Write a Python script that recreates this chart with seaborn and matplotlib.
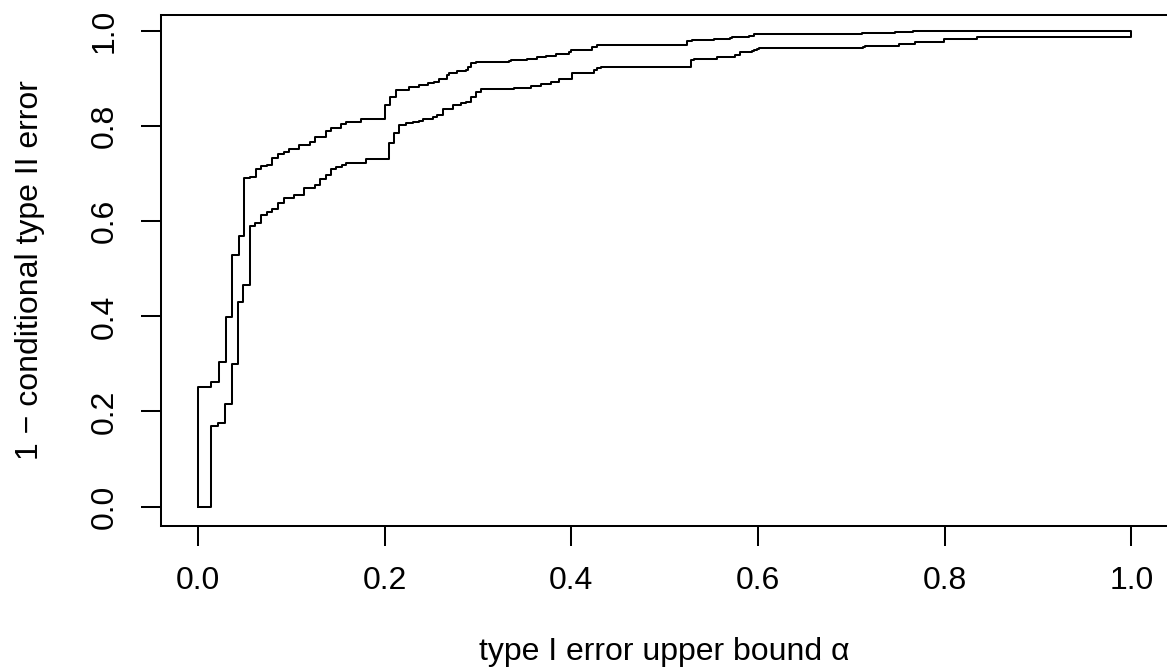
import matplotlib
matplotlib.use("Agg")
import matplotlib.pyplot as plt
import numpy as np
import pandas as pd
import seaborn as sns

# ---- data ----
upper_alpha = [0.0, 0.0143, 0.0225, 0.0296, 0.0367, 0.0439, 0.0496, 0.0562, 0.0623, 0.0676,
               0.0737, 0.0794, 0.0858, 0.0919, 0.0980, 0.1086, 0.1200, 0.1257, 0.1370, 0.1425,
               0.1530, 0.1586, 0.1746, 0.2006, 0.2056, 0.2120, 0.2260, 0.2370, 0.2460, 0.2530,
               0.2580, 0.2670, 0.2690, 0.2780, 0.2870, 0.2888, 0.2923, 0.2977, 0.3333, 0.3350,
               0.3530, 0.3636, 0.3726, 0.3833, 0.3975, 0.3993, 0.4225, 0.4278, 0.5240, 0.5295,
               0.5527, 0.5705, 0.5723, 0.5900, 0.5955, 0.7114, 0.7470, 0.7490, 0.7660, 0.7970]
upper_power = [0.252, 0.262, 0.304, 0.398, 0.530, 0.568, 0.690, 0.694, 0.710, 0.716,
               0.719, 0.732, 0.741, 0.745, 0.751, 0.761, 0.767, 0.778, 0.790, 0.797,
               0.805, 0.809, 0.816, 0.844, 0.862, 0.876, 0.882, 0.887, 0.890, 0.893,
               0.900, 0.907, 0.912, 0.915, 0.918, 0.925, 0.932, 0.935, 0.937, 0.939,
               0.941, 0.945, 0.947, 0.951, 0.955, 0.961, 0.967, 0.971, 0.979, 0.981,
               0.983, 0.985, 0.988, 0.990, 0.994, 0.995, 0.997, 0.998, 0.999, 1.000]

lower_alpha = [0.0136, 0.0218, 0.0285, 0.0360, 0.0432, 0.0485, 0.0554, 0.0615, 0.0676, 0.0737,
               0.0794, 0.0858, 0.0919, 0.1030, 0.1140, 0.1250, 0.1307, 0.1367, 0.1420, 0.1474,
               0.1538, 0.1590, 0.1645, 0.1800, 0.2050, 0.2103, 0.2156, 0.2228, 0.2299, 0.2370,
               0.2406, 0.2513, 0.2566, 0.2620, 0.2727, 0.2816, 0.2870, 0.2923, 0.2977, 0.3030,
               0.3387, 0.3566, 0.3673, 0.3780, 0.3868, 0.4010, 0.4243, 0.4278, 0.4314, 0.5277,
               0.5310, 0.5560, 0.5750, 0.5810, 0.5937, 0.5955, 0.5990, 0.6010, 0.7130, 0.7150,
               0.7507, 0.7685, 0.7996, 0.8350]
lower_power = [0.169, 0.175, 0.215, 0.300, 0.431, 0.465, 0.591, 0.596, 0.613, 0.619,
               0.625, 0.638, 0.649, 0.656, 0.670, 0.677, 0.689, 0.697, 0.709, 0.713,
               0.718, 0.722, 0.723, 0.731, 0.764, 0.785, 0.802, 0.806, 0.809, 0.811,
               0.816, 0.820, 0.823, 0.835, 0.844, 0.848, 0.851, 0.862, 0.872, 0.877,
               0.881, 0.884, 0.888, 0.893, 0.900, 0.912, 0.918, 0.923, 0.925, 0.939,
               0.941, 0.946, 0.950, 0.955, 0.957, 0.960, 0.962, 0.964, 0.967, 0.969,
               0.973, 0.976, 0.983, 0.988]

alpha_end = 1.0
x_ticks = [0.0, 0.2, 0.4, 0.6, 0.8, 1.0]
y_ticks = [0.0, 0.2, 0.4, 0.6, 0.8, 1.0]
x_tick_labels = ["0.0", "0.2", "0.4", "0.6", "0.8", "1.0"]
y_tick_labels = ["0.0", "0.2", "0.4", "0.6", "0.8", "1.0"]
x_label = "type I error upper bound \u03b1"
y_label = "1 \u2212 conditional type II error"


def band_path(ua, up, la, lp, x_end):
    """Closed outline of the step band: upper curve left->right, lower curve back."""
    xs, ys = [ua[0]], [0.0]
    prev = 0.0
    for a, v in zip(ua, up):
        xs += [a, a]
        ys += [prev, v]
        prev = v
    xs.append(x_end); ys.append(prev)
    xs.append(x_end); ys.append(lp[-1])
    for i in range(len(la) - 1, -1, -1):
        below = lp[i - 1] if i > 0 else 0.0
        xs += [la[i], la[i]]
        ys += [lp[i], below]
    xs.append(ua[0]); ys.append(0.0)
    return pd.DataFrame({"alpha": xs, "power": ys})


df = band_path(upper_alpha, upper_power, lower_alpha, lower_power, alpha_end)

sns.set_theme(style="white")
plt.rcParams["font.family"] = ["Liberation Sans", "DejaVu Sans"]

W, H = 1167, 672
fig = plt.figure(figsize=(W / 100, H / 100), dpi=100)
left, right, top, bottom = 160.7, 1168.6, 15.0, 525.5
ax = fig.add_axes([left / W, 1 - bottom / H, (right - left) / W, (bottom - top) / H])

sns.lineplot(data=df, x="alpha", y="power", sort=False, estimator=None,
             color="black", linewidth=1.45, ax=ax)

ax.set_xlim(-0.04, 1.04)
y0_px, y1_px = 506.6, 31.0          # pixel rows of y = 0 and y = 1
ppu = y0_px - y1_px
ax.set_ylim((y0_px - bottom) / ppu, (y0_px - top) / ppu)

FS = 23
ax.set_xticks(x_ticks)
ax.set_xticklabels(x_tick_labels)
ax.set_yticks(y_ticks)
ax.set_yticklabels(y_tick_labels, rotation=90, va="center")
ax.tick_params(axis="both", direction="out", length=14.4, width=1.45,
               labelsize=FS, colors="black", bottom=True, left=True)
ax.tick_params(axis="x", pad=15)
ax.tick_params(axis="y", pad=15)

for sp in ax.spines.values():
    sp.set_visible(True)
    sp.set_color("black")
    sp.set_linewidth(1.45)
ax.grid(False)

ax.set_xlabel(x_label, fontsize=FS, color="black")
ax.xaxis.label.set_va("baseline")
ax.xaxis.set_label_coords(0.5, (bottom - 660) / (bottom - top))
ax.set_ylabel(y_label, fontsize=FS, color="black")
ax.yaxis.label.set_va("center")
ax.yaxis.label.set_ha("center")
ax.yaxis.set_label_coords((30 - left) / (right - left), 0.5)

fig.savefig("out.png", dpi=100)
